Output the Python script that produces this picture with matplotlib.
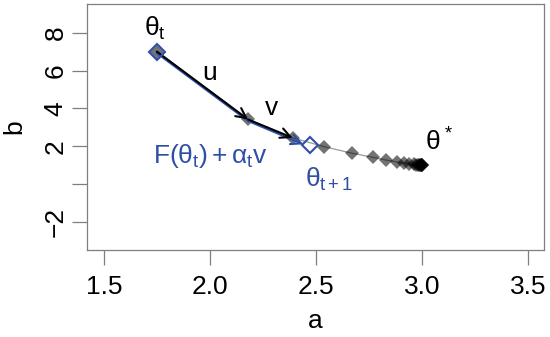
import matplotlib
matplotlib.use("Agg")
import matplotlib.pyplot as plt

plt.rcParams["font.family"] = ["Liberation Sans", "DejaVu Sans"]
plt.rcParams["mathtext.fontset"] = "custom"
plt.rcParams["mathtext.rm"] = "Liberation Sans"
plt.rcParams["mathtext.it"] = "Liberation Sans"
plt.rcParams["mathtext.bf"] = "Liberation Sans:bold"

# iterates of the optimiser
path_a = [1.75, 2.18, 2.39, 2.54, 2.67, 2.77, 2.83, 2.88, 2.915, 2.94,
          2.96, 2.972, 2.981, 2.987, 2.991, 2.994, 2.996, 2.998, 2.999, 3.0]
path_b = [7.0, 3.42, 2.45, 1.98, 1.64, 1.42, 1.28, 1.18, 1.12, 1.08,
          1.055, 1.038, 1.026, 1.018, 1.012, 1.008, 1.005, 1.003, 1.002, 1.0]

theta_t = (1.75, 7.0)
theta_next = (2.47, 2.05)
theta_star = (3.0, 1.0)

x_ticks = [1.5, 2.0, 2.5, 3.0, 3.5]
x_labels = ["1.5", "2.0", "2.5", "3.0", "3.5"]
y_ticks = [-2, 0, 2, 4, 6, 8]
y_labels = ["\u22122", "", "2", "4", "6", "8"]

blue = "#2f4fa6"
axcol = "#7f7f7f"

fig = plt.figure(figsize=(5.5, 3.37), dpi=100)
ax = fig.add_axes([0.158, 0.258, 0.831, 0.730])

# gray trajectory
ax.plot(path_a, path_b, color="#9a9a9a", lw=0.9, zorder=1)
ax.plot(path_a, path_b, ls="none", marker="D", ms=7.2, mew=0,
        color="black", alpha=0.55, zorder=2)

# blue step F(theta_t) + alpha_t v, drawn just under the black arrows
off = -0.08
ax.plot([path_a[0], path_a[1]], [path_b[0] + off, path_b[1] + off],
        color=blue, lw=1.5, zorder=3)
ax.annotate("", xy=(theta_next[0] - 0.03, theta_next[1] + 0.06),
            xytext=(path_a[1], path_b[1] + off),
            arrowprops=dict(arrowstyle="->", color=blue, lw=1.5,
                            shrinkA=0, shrinkB=0, mutation_scale=18),
            zorder=3)

# black arrows u and v
for i in range(2):
    ax.annotate("", xy=(path_a[i + 1], path_b[i + 1]),
                xytext=(path_a[i], path_b[i]),
                arrowprops=dict(arrowstyle="->", color="black", lw=1.5,
                                shrinkA=0, shrinkB=0, mutation_scale=18),
                zorder=4)

# open blue diamonds
ax.plot([theta_t[0], theta_next[0]], [theta_t[1], theta_next[1]], ls="none",
        marker="D", ms=8.6, mfc="none", mec=blue, mew=1.5, zorder=5)

fs = 19
ax.text(1.74, 8.2, r"$\theta_t$", fontsize=fs, ha="center", va="center")
ax.text(2.0, 5.85, "u", fontsize=fs, ha="center", va="center")
ax.text(2.29, 4.05, "v", fontsize=fs, ha="center", va="center")
ax.text(3.08, 2.25, r"$\theta^*$", fontsize=fs, ha="center", va="center")
ax.text(2.0, 1.5, r"$F(\theta_t) + \alpha_t v$", fontsize=fs, color=blue,
        ha="center", va="center")
ax.text(2.56, 0.25, r"$\theta_{t+1}$", fontsize=fs, color=blue,
        ha="center", va="center")

ax.set_xlim(1.42, 3.575)
ax.set_ylim(-3.47, 9.51)
ax.set_xticks(x_ticks)
ax.set_xticklabels(x_labels)
ax.set_yticks(y_ticks)
ax.set_yticklabels(y_labels, rotation=90, va="center")
ax.tick_params(axis="both", length=11, width=0.9, color=axcol,
               labelsize=fs)
ax.tick_params(axis="x", pad=7)
ax.tick_params(axis="y", pad=3)
for s in ax.spines.values():
    s.set_color(axcol)
    s.set_linewidth(0.9)
ax.set_xlabel("a", fontsize=fs, labelpad=7)
ax.set_ylabel("b", fontsize=fs, labelpad=12)

fig.savefig("out.png", dpi=100)
